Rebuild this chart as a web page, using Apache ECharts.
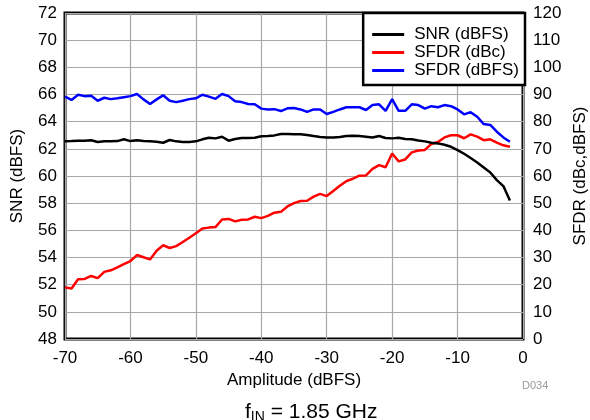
<!DOCTYPE html>
<html>
<head>
<meta charset="utf-8">
<script src="https://cdn.jsdelivr.net/npm/echarts@6/dist/echarts.min.js"></script>
<style>
  html, body { margin: 0; padding: 0; background: #ffffff; }
  #chart { width: 590px; height: 420px; }
</style>
</head>
<body>
<div id="chart"></div>
<script>
// Input amplitude sweep (dBFS)
var amplitude = [
  -70, -69, -68, -67, -66, -65, -64, -63, -62, -61,
  -60, -59, -58, -57, -56, -55, -54, -53, -52, -51,
  -50, -49, -48, -47, -46, -45, -44, -43, -42, -41,
  -40, -39, -38, -37, -36, -35, -34, -33, -32, -31,
  -30, -29, -28, -27, -26, -25, -24, -23, -22, -21,
  -20, -19, -18, -17, -16, -15, -14, -13, -12, -11,
  -10, -9, -8, -7, -6, -5, -4, -3, -2
];

// SNR (dBFS), left axis
var snr = [
  62.55, 62.57, 62.60, 62.60, 62.63, 62.50, 62.55, 62.55, 62.57, 62.70,
  62.57, 62.63, 62.57, 62.55, 62.52, 62.45, 62.65, 62.55, 62.50, 62.50,
  62.55, 62.70, 62.82, 62.77, 62.89, 62.60, 62.72, 62.80, 62.80, 62.82,
  62.92, 62.94, 62.99, 63.09, 63.09, 63.08, 63.07, 63.02, 62.94, 62.87,
  62.83, 62.83, 62.87, 62.94, 62.97, 62.94, 62.89, 62.84, 62.94, 62.80,
  62.77, 62.82, 62.72, 62.70, 62.62, 62.55, 62.45, 62.40, 62.30, 62.15,
  61.91, 61.64, 61.32, 61.00, 60.63, 60.26, 59.70, 59.26, 58.20
];

// SFDR (dBc), right axis
var sfdrDbc = [
  19.0, 18.6, 22.0, 22.1, 23.2, 22.4, 24.7, 25.3, 26.4, 27.6,
  28.7, 30.9, 30.1, 29.3, 32.5, 34.5, 33.5, 34.2, 35.7, 37.3,
  38.9, 40.7, 41.0, 41.2, 44.0, 44.2, 43.3, 43.9, 44.0, 45.0,
  44.5, 45.3, 46.5, 46.8, 48.8, 50.0, 50.8, 50.9, 52.4, 53.4,
  52.6, 54.5, 56.4, 58.1, 59.0, 60.1, 60.2, 62.6, 64.0, 63.2,
  68.3, 65.4, 66.1, 68.7, 69.4, 69.6, 71.8, 72.5, 74.2, 75.0,
  75.0, 73.9, 75.3, 74.5, 73.2, 73.5, 72.3, 71.3, 70.8
];

// SFDR (dBFS), right axis
var sfdrDbfs = [
  89.2, 88.0, 89.9, 89.4, 89.5, 87.7, 88.8, 88.3, 88.6, 89.0,
  89.4, 90.2, 88.2, 86.5, 88.2, 89.7, 87.7, 87.2, 87.7, 88.3,
  88.6, 89.9, 89.2, 88.4, 90.2, 89.4, 87.5, 87.2, 86.5, 86.4,
  84.8, 84.5, 84.6, 83.9, 84.9, 85.0, 84.5, 83.6, 84.5, 84.5,
  82.8, 83.6, 84.5, 85.3, 85.3, 85.3, 84.3, 86.1, 86.4, 84.0,
  88.3, 84.0, 84.0, 86.4, 86.1, 84.8, 85.7, 85.3, 86.1, 85.7,
  84.5, 82.7, 83.5, 81.8, 79.1, 78.8, 76.3, 74.2, 72.6
];

var seriesNames = ['SNR (dBFS)', 'SFDR (dBc)', 'SFDR (dBFS)'];
var seriesColors = ['#000000', '#ff0000', '#0000ff'];

function pairs(ys) {
  return amplitude.map(function (x, i) { return [x, ys[i]]; });
}

var FONT = '"Liberation Sans", Arial, sans-serif';
var chart = echarts.init(document.getElementById('chart'), null, { renderer: 'canvas' });

var labelStyle = { color: '#000', fontSize: 17, fontFamily: FONT };
var nameStyle = { color: '#000', fontSize: 17, fontFamily: FONT };

chart.setOption({
  animation: false,
  backgroundColor: '#ffffff',
  textStyle: { fontFamily: FONT },
  title: {
    text: '{f|f}{sub|IN}{f| = 1.85 GHz}',
    left: 240,
    top: 395,
    textStyle: {
      fontWeight: 'normal',
      rich: {
        f: { fontSize: 21, fontFamily: FONT, color: '#000', fontWeight: 'normal' },
        sub: { fontSize: 14, fontFamily: FONT, color: '#000', fontWeight: 'normal', padding: [10, 0, 0, 0] }
      }
    }
  },
  graphic: [{
    type: 'text',
    left: 522,
    top: 380,
    style: { text: 'D034', fill: '#999999', fontSize: 11, fontFamily: FONT }
  }],
  legend: {
    orient: 'vertical',
    right: 65,
    top: 13,
    padding: [13, 6, 6, 9],
    itemGap: 1,
    itemWidth: 32,
    itemHeight: 3,
    icon: 'rect',
    backgroundColor: '#ffffff',
    borderColor: '#000000',
    borderWidth: 2.5,
    borderRadius: 0,
    textStyle: { color: '#000', fontSize: 17, fontFamily: FONT, padding: [0, 0, 0, 5] },
    data: seriesNames
  },
  grid: {
    left: 65, right: 67, top: 13, bottom: 81,
    show: true,
    borderColor: '#000000',
    borderWidth: 3,
    containLabel: false,
    outerBoundsMode: 'none'
  },
  xAxis: {
    type: 'value',
    min: -70, max: 0, interval: 10,
    name: 'Amplitude (dBFS)',
    nameLocation: 'middle',
    nameGap: 33,
    nameTextStyle: nameStyle,
    axisLine: { show: false },
    axisTick: { show: false },
    axisLabel: Object.assign({ margin: 11 }, labelStyle),
    splitLine: { show: true, lineStyle: { color: '#a8a8a8', width: 1.2 } }
  },
  yAxis: [{
    type: 'value',
    min: 48, max: 72, interval: 2,
    position: 'left',
    name: 'SNR (dBFS)',
    nameLocation: 'middle',
    nameRotate: 90,
    nameGap: 39,
    nameTextStyle: nameStyle,
    axisLine: { show: false },
    axisTick: { show: false },
    axisLabel: Object.assign({ margin: 8 }, labelStyle),
    splitLine: { show: true, lineStyle: { color: '#a8a8a8', width: 1.2 } }
  }, {
    type: 'value',
    min: 0, max: 120, interval: 10,
    position: 'right',
    name: 'SFDR (dBc,dBFS)',
    nameLocation: 'middle',
    nameRotate: 90,
    nameGap: 48,
    nameTextStyle: nameStyle,
    axisLine: { show: false },
    axisTick: { show: false },
    axisLabel: Object.assign({ margin: 10 }, labelStyle),
    splitLine: { show: false }
  }],
  series: [{
    name: seriesNames[0], type: 'line', yAxisIndex: 0,
    symbol: 'none', z: 3,
    lineStyle: { color: seriesColors[0], width: 2.5 },
    itemStyle: { color: seriesColors[0] },
    data: pairs(snr)
  }, {
    name: seriesNames[1], type: 'line', yAxisIndex: 1,
    symbol: 'none', z: 2,
    lineStyle: { color: seriesColors[1], width: 2.5 },
    itemStyle: { color: seriesColors[1] },
    data: pairs(sfdrDbc)
  }, {
    name: seriesNames[2], type: 'line', yAxisIndex: 1,
    symbol: 'none', z: 2,
    lineStyle: { color: seriesColors[2], width: 2.5 },
    itemStyle: { color: seriesColors[2] },
    data: pairs(sfdrDbfs)
  }]
});
</script>
</body>
</html>
